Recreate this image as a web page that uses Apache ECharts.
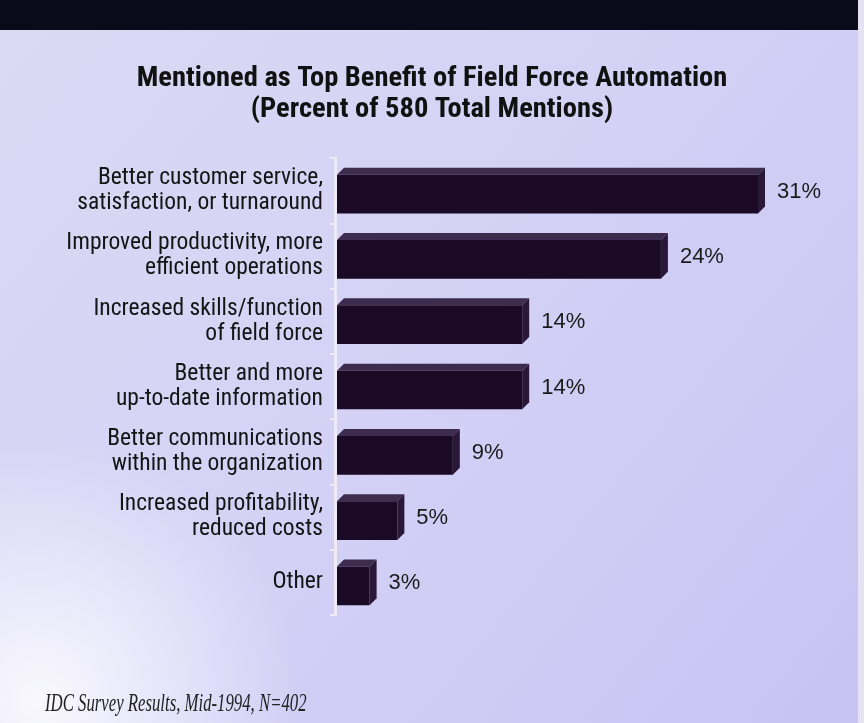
<!DOCTYPE html>
<html><head><meta charset="utf-8">
<script src="https://cdn.jsdelivr.net/npm/echarts@6/dist/echarts.min.js"></script>
<style>html,body{margin:0;padding:0;background:#fff}#c{width:864px;height:723px}</style>
</head><body><div id="c"></div>
<script>
const categories = [
  "Better customer service,\nsatisfaction, or turnaround",
  "Improved productivity, more\nefficient operations",
  "Increased skills/function\nof field force",
  "Better and more\nup-to-date information",
  "Better communications\nwithin the organization",
  "Increased profitability,\nreduced costs",
  "Other"
];
const values = [31, 24, 14, 14, 9, 5, 3];
const valueLabels = ["31%", "24%", "14%", "14%", "9%", "5%", "3%"];
const titleText = "Mentioned as Top Benefit of Field Force Automation\n(Percent of 580 Total Mentions)";
const sourceText = "IDC Survey Results, Mid-1994, N=402";

const narrow = "'Liberation Sans Narrow','Arial Narrow','Roboto Condensed','Liberation Sans',sans-serif";
const chart = echarts.init(document.getElementById('c'));
chart.setOption({
  animation: false,
  backgroundColor: {
    type: 'linear', x: 0, y: 0, x2: 1, y2: 1,
    colorStops: [
      {offset: 0, color: '#dcd9f3'},
      {offset: 0.5, color: '#d4d1f6'},
      {offset: 1, color: '#c6c3f3'}
    ]
  },
  graphic: [
    {type: 'circle', shape: {cx: 40, cy: 700, r: 260},
     style: {fill: {type: 'radial', x: 0.5, y: 0.5, r: 0.5, colorStops: [{offset: 0, color: 'rgba(255,255,255,0.85)'}, {offset: 1, color: 'rgba(255,255,255,0)'}]}}, z: -1},
    {type: 'rect', left: 0, top: 0, shape: {width: 858, height: 30}, style: {fill: '#0b0a1a'}, z: 10},
    {type: 'rect', left: 858, top: 0, shape: {width: 6, height: 723}, style: {fill: '#e4e2f3'}, z: 10},
    {type: 'text', x: 45, y: 692, scaleX: 0.67, style: {text: sourceText, font: "italic 25px 'Liberation Serif','DejaVu Serif',serif", fill: '#222'}}
  ],
  title: {
    text: titleText, left: 'center', top: 58,
    textStyle: {fontFamily: narrow, fontSize: 28.5, fontWeight: 'bold', color: '#111', lineHeight: 31}
  },
  grid: {left: 335, right: 99, top: 158, height: 457, containLabel: false},
  xAxis: {type: 'value', min: 0, max: 31, show: false},
  yAxis: {
    type: 'category', data: categories, inverse: true,
    axisLine: {show: true, lineStyle: {color: '#eeeaf8', width: 3}},
    axisTick: {show: true, length: 5, lineStyle: {color: '#eeeaf8', width: 2}},
    axisLabel: {fontFamily: narrow, fontSize: 23.5, color: '#141414', lineHeight: 25, margin: 12, align: 'right'}
  },
  series: [{
    type: 'custom',
    data: values.map((v, i) => [v, i]),
    encode: {x: 0, y: 1},
    renderItem: function (params, api) {
      const v = api.value(0), idx = api.value(1);
      const p0 = api.coord([0, idx]);
      const p1 = api.coord([v, idx]);
      const h = api.size([0, 1])[1] * 0.7;
      const d = 7;
      const x0 = p0[0] + 2, x1 = p1[0] - d;
      const yt = p0[1] - h / 2 + d, yb = p0[1] + h / 2;
      return {
        type: 'group',
        children: [
          {type: 'polygon', shape: {points: [[x0, yt], [x0 + d, yt - d], [x1 + d, yt - d], [x1, yt]]}, style: {fill: '#3d2c4e'}},
          {type: 'polygon', shape: {points: [[x1, yt], [x1 + d, yt - d], [x1 + d, yb - d], [x1, yb]]}, style: {fill: '#2a1838'}},
          {type: 'rect', shape: {x: x0, y: yt, width: x1 - x0, height: yb - yt}, style: {fill: '#1a0a26'}},
          {type: 'text', x: p1[0] + 12, y: p0[1] + 1, style: {text: valueLabels[params.dataIndex], font: "22px 'Liberation Sans',Arial,sans-serif", fill: '#1a1a1a', verticalAlign: 'middle'}}
        ]
      };
    }
  }]
});
</script></body></html>
